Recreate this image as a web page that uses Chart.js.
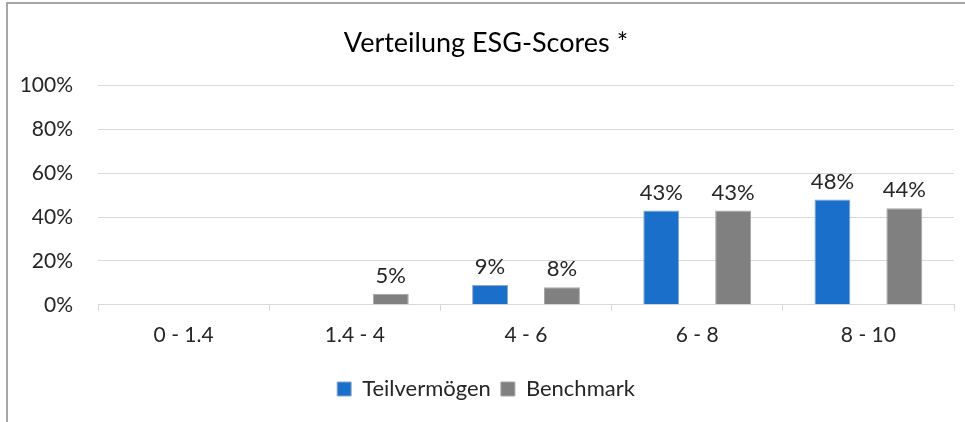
<!DOCTYPE html>
<html>
<head>
<meta charset="utf-8">
<script src="https://cdn.jsdelivr.net/npm/chart.js@4"></script>
<style>
    html, body { margin: 0; padding: 0; background: #fff; }
    #frame {
        position: absolute;
        left: 6px;
        top: 2px;
        width: 965px;
        height: 430px;
        border-left: 2px solid #a6a6a6;
        border-top: 2px solid #a6a6a6;
    }
    #esgChart { position: absolute; left: 0; top: 0; }
</style>
</head>
<body>
<div id="frame"></div>
<canvas id="esgChart" width="965" height="422"></canvas>
<script>
const categories = ["0 - 1.4", "1.4 - 4", "4 - 6", "6 - 8", "8 - 10"];
const teilvermoegen = [0, 0, 9, 43, 48];
const benchmark = [0, 5, 8, 43, 44];
const yTicks = [0, 20, 40, 60, 80, 100];

const fontName = "Lato";

// Werte über den Balken schreiben (0 wird nicht beschriftet)
const valueLabels = {
    id: "valueLabels",
    afterDatasetsDraw(chart)
    {
        const ctx = chart.ctx;
        ctx.save();
        ctx.font = "22px " + fontName;
        ctx.fillStyle = "#262626";
        ctx.textAlign = "center";
        ctx.textBaseline = "bottom";
        chart.data.datasets.forEach((ds, i) => {
            chart.getDatasetMeta(i).data.forEach((bar, j) => {
                if (ds.data[j] > 0)
                {
                    ctx.fillText(ds.data[j] + "%", bar.x, bar.y - 7);
                }
            });
        });
        ctx.restore();
    }
};

const ctx = document.getElementById("esgChart").getContext("2d");
const esgChart = new Chart(ctx, {
    type: "bar",
    data: {
        labels: categories,
        datasets: [{
            label: "Teilvermögen",
            data: teilvermoegen,
            backgroundColor: "#1a6fca",
            borderColor: "#8fa9c4",
            borderWidth: 1
        }, {
            label: "Benchmark",
            data: benchmark,
            backgroundColor: "#808080",
            borderColor: "#a6a6a6",
            borderWidth: 1
        }]
    },
    options: {
        responsive: false,
        animation: false,
        layout: { padding: { left: 18, right: 11, top: 9, bottom: 12 } },
        datasets: {
            bar: { categoryPercentage: 0.84, barPercentage: 0.5 }
        },
        plugins: {
            title: {
                display: true,
                text: "Verteilung ESG-Scores *",
                color: "#000",
                font: { family: fontName, size: 27, weight: "normal" },
                padding: { top: 18, bottom: 26 }
            },
            legend: {
                position: "bottom",
                labels: {
                    color: "#262626",
                    font: { family: fontName, size: 22 },
                    boxWidth: 14,
                    boxHeight: 14,
                    padding: 10
                }
            },
            tooltip: { enabled: false }
        },
        scales: {
            y: {
                min: 0,
                max: 100,
                afterBuildTicks: (axis) => {
                    axis.ticks = yTicks.map(v => ({ value: v }));
                },
                afterFit: (axis) => {
                    axis.width = 80;
                },
                ticks: {
                    color: "#262626",
                    font: { family: fontName, size: 21 },
                    padding: 25,
                    callback: (v) => v + "%"
                },
                grid: { color: "#d9d9d9", drawTicks: false },
                border: { display: false }
            },
            x: {
                afterFit: (axis) => {
                    axis.height += 8;
                },
                ticks: {
                    color: "#262626",
                    font: { family: fontName, size: 21 },
                    padding: 12
                },
                grid: {
                    display: true,
                    offset: true,
                    drawOnChartArea: false,
                    color: "#d9d9d9",
                    tickLength: 6
                },
                border: { display: true, color: "#d9d9d9" }
            }
        }
    },
    plugins: [valueLabels]
});
</script>
</body>
</html>
